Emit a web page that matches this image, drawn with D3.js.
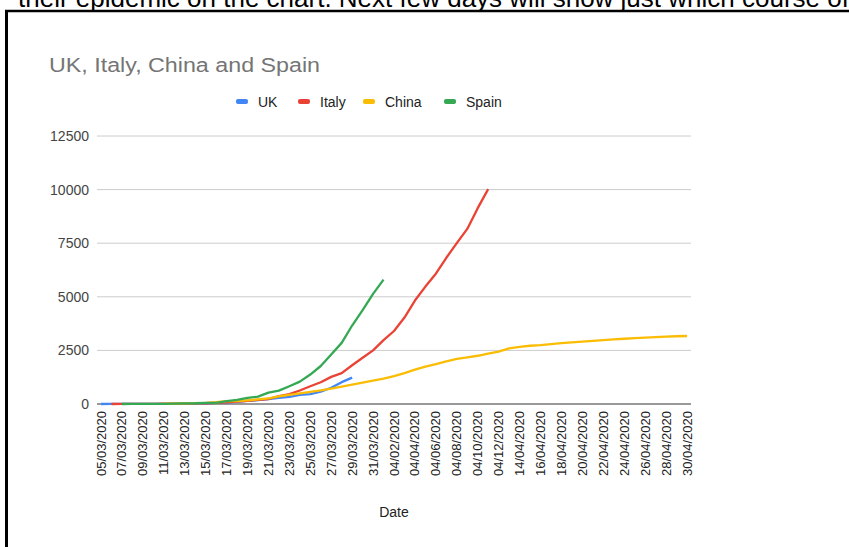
<!DOCTYPE html>
<html>
<head>
<meta charset="utf-8">
<script src="https://cdn.jsdelivr.net/npm/d3@7"></script>
<style>
  body { margin: 0; background: #fff; }
  text { font-family: "Liberation Sans", Arial, sans-serif; }
</style>
</head>
<body>
<div id="chart"></div>
<script>
// categories as they appear in the sheet (April 1-12 were parsed as MM/DD)
const dates = [
  "05/03/2020", "06/03/2020", "07/03/2020", "08/03/2020", "09/03/2020", "10/03/2020",
  "11/03/2020", "12/03/2020", "13/03/2020", "14/03/2020", "15/03/2020", "16/03/2020",
  "17/03/2020", "18/03/2020", "19/03/2020", "20/03/2020", "21/03/2020", "22/03/2020",
  "23/03/2020", "24/03/2020", "25/03/2020", "26/03/2020", "27/03/2020", "28/03/2020",
  "29/03/2020", "30/03/2020", "31/03/2020",
  "04/01/2020", "04/02/2020", "04/03/2020", "04/04/2020", "04/05/2020", "04/06/2020",
  "04/07/2020", "04/08/2020", "04/09/2020", "04/10/2020", "04/11/2020", "04/12/2020",
  "13/04/2020", "14/04/2020", "15/04/2020", "16/04/2020", "17/04/2020", "18/04/2020",
  "19/04/2020", "20/04/2020", "21/04/2020", "22/04/2020", "23/04/2020", "24/04/2020",
  "25/04/2020", "26/04/2020", "27/04/2020", "28/04/2020", "29/04/2020", "30/04/2020"
];

const uk = [
  1, 2, 2, 3, 4, 6, 8, 8, 8, 21, 35, 55, 71, 104, 144, 177, 233, 281, 335, 422,
  465, 578, 759, 1019, 1228
];

const italy = [
  null, 1, 2, 3, 7, 10, 12, 17, 21, 29, 34, 52, 79, 107, 148, 197, 233, 366, 463,
  631, 827, 1016, 1266, 1441, 1809, 2158, 2503, 2978, 3405, 4032, 4825, 5476, 6077,
  6820, 7503, 8165, 9134, 10023
];

const china = [
  null, null, null, null, null, null, 17, 18, 26, 42, 56, 82, 131, 133, 171, 213,
  259, 361, 425, 491, 563, 633, 718, 805, 905, 1000, 1090, 1180, 1300, 1440, 1600,
  1740, 1860, 1990, 2100, 2180, 2250, 2345, 2445, 2595, 2665, 2717, 2746, 2790, 2837,
  2872, 2914, 2947, 2983, 3015, 3044, 3072, 3100, 3123, 3139, 3161, 3172
];

const spain = [
  null, null, 1, 2, 3, 5, 10, 17, 28, 35, 54, 55, 133, 195, 289, 342, 533, 623, 830,
  1043, 1375, 1772, 2311, 2850, 3660, 4380, 5138, 5800
];

const yTicks = [0, 2500, 5000, 7500, 10000, 12500];

const series = [
  {name: "UK", values: uk, color: "#4285f4"},
  {name: "Italy", values: italy, color: "#ea4335"},
  {name: "China", values: china, color: "#fbbc04"},
  {name: "Spain", values: spain, color: "#34a853"}
];

const width = 849, height = 547;

const svg = d3.select("#chart").append("svg")
  .attr("width", width)
  .attr("height", height);

// bit of the page around the screenshot
svg.append("text")
  .attr("x", 18).attr("y", 7)
  .attr("font-size", 26).attr("fill", "#000")
  .text("their epidemic on the chart. Next few days will show just which course of");
svg.append("line")
  .attr("x1", 5).attr("x2", width).attr("y1", 11).attr("y2", 11)
  .attr("stroke", "#000").attr("stroke-width", 2.5);
svg.append("line")
  .attr("x1", 6.5).attr("x2", 6.5).attr("y1", 10).attr("y2", height)
  .attr("stroke", "#000").attr("stroke-width", 3);

const x = d3.scalePoint().domain(dates).range([101, 687]);
const y = d3.scaleLinear().domain([0, 12500]).range([404, 136]);

// title
svg.append("text")
  .attr("x", 49).attr("y", 72)
  .attr("font-size", 20).attr("fill", "#757575")
  .attr("textLength", 271).attr("lengthAdjust", "spacingAndGlyphs")
  .text("UK, Italy, China and Spain");

// legend
const legendX = [236, 298, 363, 444];
const legend = svg.selectAll(".leg").data(series).enter().append("g")
  .attr("transform", (d, i) => `translate(${legendX[i]},102)`);
legend.append("rect")
  .attr("x", 0).attr("y", -3).attr("width", 12).attr("height", 5).attr("rx", 2)
  .attr("fill", d => d.color);
legend.append("text")
  .attr("x", 22).attr("y", 5)
  .attr("font-size", 14).attr("fill", "#222")
  .text(d => d.name);

// gridlines + y labels
const yAxis = svg.append("g");
yAxis.selectAll("line").data(yTicks).enter().append("line")
  .attr("x1", 97).attr("x2", 691)
  .attr("y1", d => y(d)).attr("y2", d => y(d))
  .attr("stroke", d => d === 0 ? "#333" : "#ccc")
  .attr("stroke-width", 1);
yAxis.selectAll("text").data(yTicks).enter().append("text")
  .attr("x", 89).attr("y", d => y(d)).attr("dy", "0.35em")
  .attr("text-anchor", "end").attr("font-size", 14).attr("fill", "#444")
  .text(d => d);

// x labels, every second category
const xAxis = svg.append("g");
xAxis.selectAll("text").data(dates.filter((d, i) => i % 2 === 0)).enter().append("text")
  .attr("transform", d => `translate(${x(d)},411) rotate(-90)`)
  .attr("dy", "0.35em")
  .attr("text-anchor", "end").attr("font-size", 13).attr("fill", "#222")
  .text(d => d);

svg.append("text")
  .attr("x", 394).attr("y", 517)
  .attr("text-anchor", "middle").attr("font-size", 14).attr("fill", "#222")
  .text("Date");

// lines
const line = d3.line()
  .defined(d => d.v != null)
  .x(d => x(d.date))
  .y(d => y(d.v));

svg.selectAll(".series").data(series).enter().append("path")
  .attr("fill", "none")
  .attr("stroke", d => d.color)
  .attr("stroke-width", 2.3)
  .attr("stroke-linejoin", "round")
  .attr("d", d => line(d.values.map((v, i) => ({date: dates[i], v: v}))));
</script>
</body>
</html>
